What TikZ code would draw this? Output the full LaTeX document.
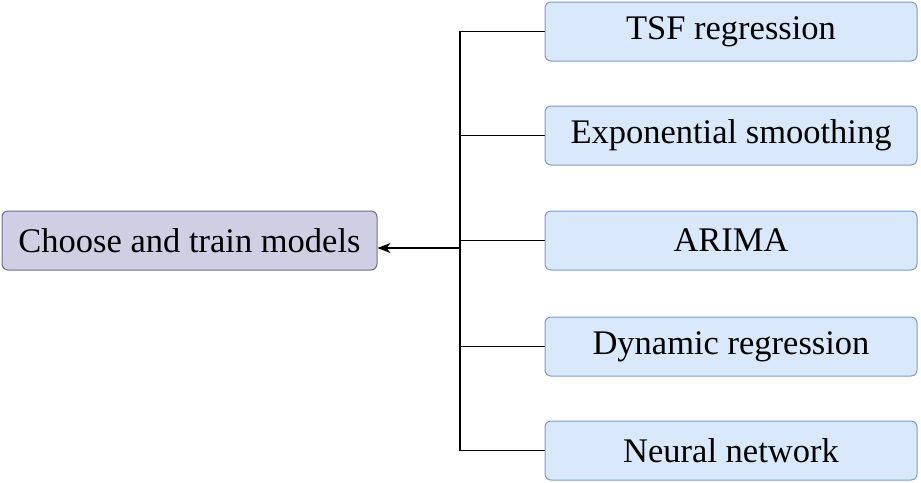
\documentclass[tikz,border=0pt]{standalone}
\usepackage{fontspec}
\setmainfont{Liberation Serif}
\usetikzlibrary{arrows.meta}
\definecolor{leftfill}{HTML}{D0CEE2}
\definecolor{leftdraw}{HTML}{6E6A8E}
\definecolor{rightfill}{HTML}{DAE8FC}
\definecolor{rightdraw}{HTML}{7D9AC6}
\tikzset{
  box/.style={rounded corners=6pt, line width=1pt, inner sep=0pt,
    minimum height=59pt, font=\fontsize{34.5}{40}\selectfont, text=black},
  mainbox/.style={box, fill=leftfill, draw=leftdraw, minimum width=375pt},
  modelbox/.style={box, fill=rightfill, draw=rightdraw, minimum width=372pt},
  link/.style={line width=1.5pt, draw=black},
}
\begin{document}
\begin{tikzpicture}[x=1pt,y=-1pt]
\useasboundingbox (0,0) rectangle (921,482);
\node[mainbox] (main) at (189.5,240.5) {Choose and train models};
\node[modelbox] (tsf) at (731,31.5) {TSF regression};
\node[modelbox] (exp) at (731,135.5) {Exponential smoothing};
\node[modelbox] (arima) at (731,240.5) {ARIMA};
\node[modelbox] (dyn) at (731,346.5) {Dynamic regression};
\node[modelbox] (nn) at (731,450.5) {Neural network};
\coordinate (jt) at (460,31.5);
\coordinate (jb) at (460,450.5);
\coordinate (ja) at (460,248);
\draw[link] (tsf.west) -- (jt) -- (jb) -- (nn.west);
\draw[link] (exp.west) -- (exp.west -| jt);
\draw[link] (arima.west) -- (arima.west -| jt);
\draw[link] (dyn.west) -- (dyn.west -| jt);
\draw[link, -{Stealth[length=13pt,width=10pt,inset=4pt]}] (ja) -- (ja -| main.east);
\end{tikzpicture}
\end{document}
